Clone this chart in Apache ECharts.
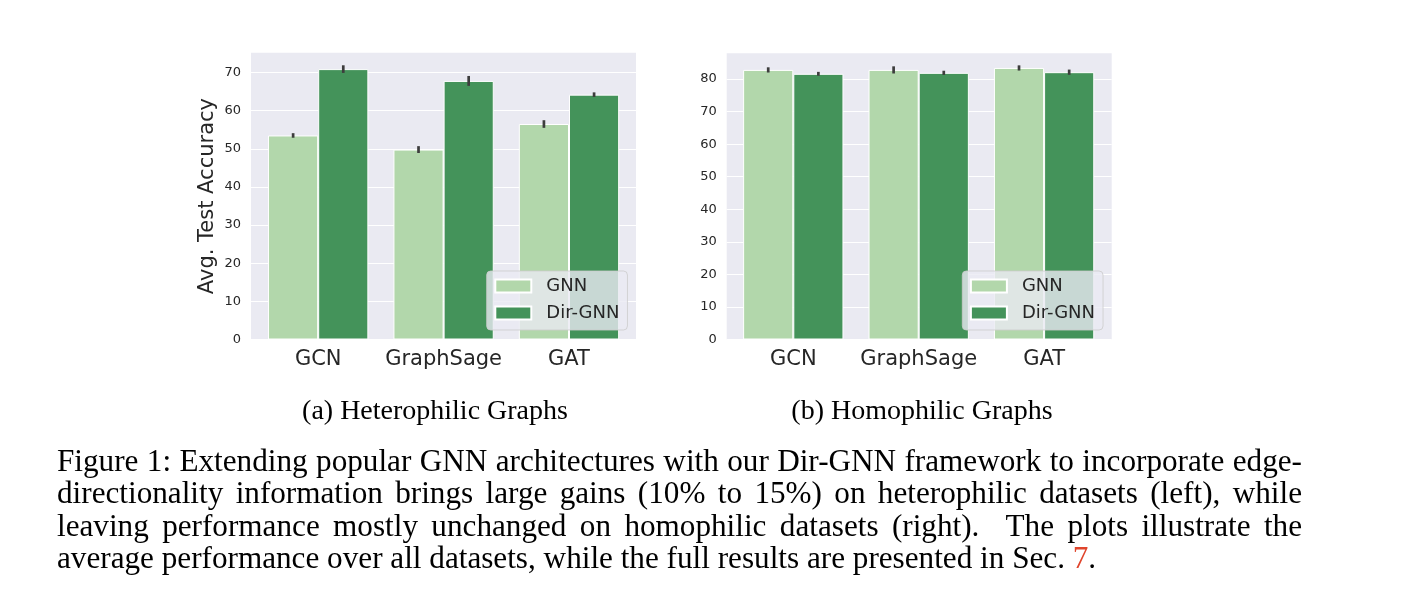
<!DOCTYPE html>
<html><head><meta charset="utf-8">
<script src="https://cdn.jsdelivr.net/npm/echarts@6/dist/echarts.min.js"></script>
<style>
html,body{margin:0;padding:0;background:#fff;}
#chart{position:absolute;left:0;top:0;width:1408px;height:604px;}
.cap{position:absolute;font-family:"Liberation Serif","Times New Roman",serif;line-height:32.6px;color:#000;white-space:nowrap;}
.sub{transform:translateX(-50%);font-size:28px;}
.main{font-size:31.2px;}
.just{left:57px;width:1245px;text-align:justify;text-align-last:justify;white-space:normal;height:32.6px;overflow:visible;}
.last{left:57px;}
.ref{color:#e0452c;}
</style></head><body>
<div id="chart"></div>
<div class="cap sub" style="left:435px;top:394px;">(a) Heterophilic Graphs</div>
<div class="cap sub" style="left:922px;top:394px;">(b) Homophilic Graphs</div>
<div class="cap main just" style="top:444.7px;">Figure 1: Extending popular GNN architectures with our Dir-GNN framework to incorporate edge-</div>
<div class="cap main just" style="top:477.4px;">directionality information brings large gains (10% to 15%) on heterophilic datasets (left), while</div>
<div class="cap main just" style="top:510px;">leaving performance mostly unchanged on homophilic datasets (right).&nbsp; The plots illustrate the</div>
<div class="cap main last" style="top:542.4px;">average performance over all datasets, while the full results are presented in Sec. <span class="ref">7</span>.</div>
<script>
// ---- data ----
var categories = ['GCN', 'GraphSage', 'GAT'];
var seriesNames = ['GNN', 'Dir-GNN'];
var heteroGNN = [53.5, 49.8, 56.5];
var heteroGNNErr = [0.6, 0.9, 1.0];
var heteroDir = [70.9, 67.8, 64.2];
var heteroDirErr = [1.0, 1.3, 0.6];
var homoGNN = [82.8, 82.8, 83.4];
var homoGNNErr = [0.8, 1.1, 0.8];
var homoDir = [81.6, 81.9, 82.1];
var homoDirErr = [0.6, 0.65, 0.8];
var heteroYMax = 75.2;
var homoYMax = 87.9;
var yTickStep = 10;
var yLabel = 'Avg. Test Accuracy';

// ---- style ----
var cLight = '#b2d7ab', cDark = '#44935a', bg = '#eaeaf2', txt = '#262626', errC = '#3d3d3d';
var FONT = 'DejaVu Sans';

function errData(vals, errs) {
  return vals.map(function (v, i) { return [i, v - errs[i], v + errs[i]]; });
}
function errRender(sign) {
  return function (params, api) {
    var cat = api.value(0);
    var a = api.coord([cat, api.value(1)]);
    var b = api.coord([cat, api.value(2)]);
    var band = api.size([1, 0])[0];
    var x = a[0] + sign * band * 0.2;
    return { type: 'line', shape: { x1: x, y1: a[1], x2: x, y2: b[1] },
      style: { stroke: errC, lineWidth: 2.7 } };
  };
}
function bgY(idx, max, showName) {
  var nTicks = Math.floor(max / yTickStep) + 1;
  var colors = [];
  for (var j = 0; j < nTicks; j++) colors.push('#ffffff');
  colors.push('rgba(0,0,0,0)');
  var o = { gridIndex: idx, type: 'value', min: 0, max: max, interval: yTickStep,
    axisLine: { show: false }, axisTick: { show: false },
    axisLabel: { color: txt, fontSize: 13, margin: 10, fontFamily: FONT,
      formatter: function (v) { return (Math.abs(v % yTickStep) < 1e-6) ? String(v) : ''; } },
    splitLine: { show: true, lineStyle: { color: colors, width: 1.2 } } };
  if (showName) {
    o.name = yLabel; o.nameLocation = 'middle'; o.nameGap = 33;
    o.nameTextStyle = { fontSize: 21, color: txt, fontFamily: FONT };
  }
  return o;
}
function dataY(idx, max) {
  return { gridIndex: idx, type: 'value', min: 0, max: max, show: false, splitLine: { show: false } };
}
function catX(idx) {
  return { gridIndex: idx, type: 'category', data: categories,
    axisLine: { show: false }, axisTick: { show: false },
    axisLabel: { color: txt, fontSize: 21, margin: 10, fontFamily: FONT, interval: 0 } };
}
function bgX(idx) { return { gridIndex: idx, type: 'value', min: 0, max: 1, show: false }; }
function barS(name, data, color, xi) {
  return { name: name, type: 'bar', xAxisIndex: xi, yAxisIndex: xi, data: data,
    barCategoryGap: '20%', barGap: '0%',
    itemStyle: { color: color, borderColor: '#ffffff', borderWidth: 1 }, silent: true, z: 2 };
}
function errS(vals, errs, sign, xi) {
  return { type: 'custom', xAxisIndex: xi, yAxisIndex: xi, data: errData(vals, errs),
    encode: { x: 0, y: [1, 2] }, renderItem: errRender(sign), silent: true, z: 3 };
}
function legendAt(left) {
  return { left: left, top: 271, orient: 'vertical', data: seriesNames, icon: 'rect',
    itemWidth: 36, itemHeight: 13, itemGap: 9, padding: [6, 8, 8, 7.6],
    backgroundColor: 'rgba(234,234,242,0.8)', borderColor: 'rgba(204,204,204,0.8)',
    borderWidth: 1, borderRadius: 4, selectedMode: false,
    textStyle: { fontSize: 18, color: txt, fontFamily: FONT, lineHeight: 18, padding: [0, 0, 0, 10] } };
}

var chart = echarts.init(document.getElementById('chart'), null, { renderer: 'canvas' });
chart.setOption({
  animation: false,
  textStyle: { fontFamily: FONT },
  grid: [
    { left: 251, top: 52.7, width: 385, height: 286.8, show: true, backgroundColor: bg, borderWidth: 0 },
    { left: 255.5, top: 52.7, width: 376.2, height: 286.8 },
    { left: 726.7, top: 53.3, width: 385, height: 286.2, show: true, backgroundColor: bg, borderWidth: 0 },
    { left: 730.6, top: 53.3, width: 376.2, height: 286.2 }
  ],
  xAxis: [bgX(0), catX(1), bgX(2), catX(3)],
  yAxis: [bgY(0, heteroYMax, true), dataY(1, heteroYMax), bgY(2, homoYMax, false), dataY(3, homoYMax)],
  legend: [legendAt(486.7), legendAt(962.3)],
  series: [
    barS('GNN', heteroGNN, cLight, 1),
    barS('Dir-GNN', heteroDir, cDark, 1),
    errS(heteroGNN, heteroGNNErr, -1, 1),
    errS(heteroDir, heteroDirErr, 1, 1),
    barS('GNN', homoGNN, cLight, 3),
    barS('Dir-GNN', homoDir, cDark, 3),
    errS(homoGNN, homoGNNErr, -1, 3),
    errS(homoDir, homoDirErr, 1, 3)
  ]
});
</script>
</body></html>
